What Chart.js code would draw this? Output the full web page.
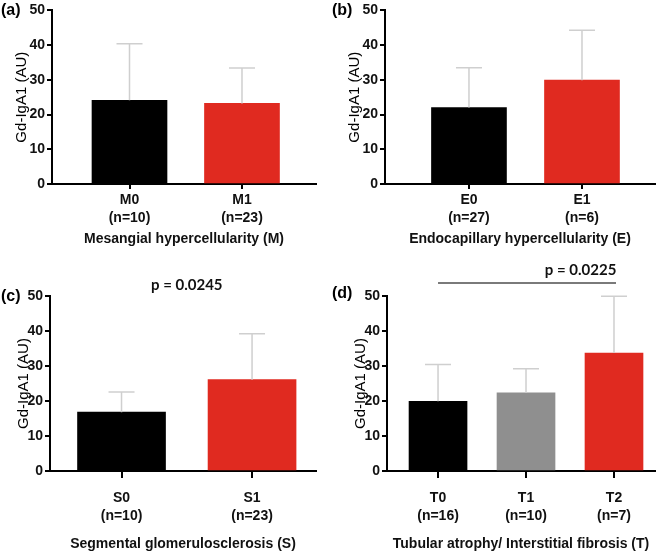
<!DOCTYPE html>
<html>
<head>
<meta charset="utf-8">
<script src="https://cdn.jsdelivr.net/npm/chart.js@4"></script>
<style>
  html, body { margin: 0; padding: 0; background: #fff; }
  body { width: 661px; height: 556px; position: relative; overflow: hidden; }
  canvas { position: absolute; }
</style>
</head>
<body>
<canvas id="pa" style="left:0;top:0"></canvas>
<canvas id="pb" style="left:330px;top:0"></canvas>
<canvas id="pc" style="left:0;top:258px"></canvas>
<canvas id="pd" style="left:330px;top:258px"></canvas>
<script>
// ---------- data ----------
const yTicks = [0, 10, 20, 30, 40, 50];
const yTitle = 'Gd-IgA1 (AU)';

const catsA = ['M0', 'M1'];
const nA = ['(n=10)', '(n=23)'];
const meanA = [24.1, 23.2];
const sdA = [16.3, 10.2];
const titleA = 'Mesangial hypercellularity (M)';

const catsB = ['E0', 'E1'];
const nB = ['(n=27)', '(n=6)'];
const meanB = [22.0, 29.9];
const sdB = [11.5, 14.4];
const titleB = 'Endocapillary hypercellularity (E)';

const catsC = ['S0', 'S1'];
const nC = ['(n=10)', '(n=23)'];
const meanC = [16.8, 26.1];
const sdC = [5.8, 13.1];
const titleC = 'Segmental glomerulosclerosis (S)';
const pC = 'p = 0.0245';

const catsD = ['T0', 'T1', 'T2'];
const nD = ['(n=16)', '(n=10)', '(n=7)'];
const meanD = [19.9, 22.3, 33.7];
const sdD = [10.5, 6.9, 16.2];
const titleD = 'Tubular atrophy/ Interstitial fibrosis (T)';
const pD = 'p = 0.0225';
const pDfrom = 'T0', pDto = 'T2';

// ---------- style ----------
const BLACK = '#000000', RED = '#e02a20', GRAY = '#8f8f8f';
const FONT = '"Liberation Sans", Arial, Helvetica, sans-serif';
Chart.defaults.font.family = FONT;
Chart.defaults.color = '#111';

const errPlugin = {
  id: 'err',
  afterDatasetsDraw(chart) {
    const ctx = chart.ctx, ys = chart.scales.y;
    const ds = chart.data.datasets[0];
    const meta = chart.getDatasetMeta(0);
    ctx.save();
    ctx.strokeStyle = '#cfcfcf';
    ctx.lineWidth = 1.5;
    meta.data.forEach((bar, i) => {
      const top = ys.getPixelForValue(ds.data[i].y + ds.errors[i]);
      const cap = 13;
      ctx.beginPath();
      ctx.moveTo(bar.x, bar.y);
      ctx.lineTo(bar.x, top);
      ctx.moveTo(bar.x - cap, top);
      ctx.lineTo(bar.x + cap, top);
      ctx.stroke();
    });
    ctx.restore();
  }
};

const annotPlugin = {
  id: 'annot',
  afterDraw(chart, args, o) {
    const ctx = chart.ctx, xs = chart.scales.x;
    ctx.save();
    ctx.fillStyle = '#000';
    ctx.textBaseline = 'middle';
    ctx.textAlign = 'left';
    ctx.font = 'bold 16px ' + FONT;
    ctx.fillText(o.label, o.labelX, o.labelY);
    if (o.line) {
      ctx.strokeStyle = '#7a7a7a';
      ctx.lineWidth = 2;
      ctx.beginPath();
      ctx.moveTo(xs.getPixelForValue(o.line.from), o.line.y);
      ctx.lineTo(xs.getPixelForValue(o.line.to) + 2, o.line.y);
      ctx.stroke();
    }
    if (o.pText) {
      ctx.font = 'bold 15px Lato, "Open Sans", sans-serif';
      ctx.textAlign = 'center';
      ctx.fillStyle = '#111';
      ctx.fillText(o.pText, xs.getPixelForValue(o.pX), o.pY);
    }
    ctx.restore();
  }
};

function makePanel(id, cfg) {
  const cv = document.getElementById(id);
  cv.width = cfg.w; cv.height = cfg.h;
  cv.style.width = cfg.w + 'px'; cv.style.height = cfg.h + 'px';
  new Chart(cv, {
    type: 'bar',
    data: {
      datasets: [{
        data: cfg.means.map((v, i) => ({ x: i + 1, y: v })),
        errors: cfg.sds,
        backgroundColor: cfg.colors,
        borderWidth: 0,
        barThickness: cfg.barW
      }]
    },
    options: {
      responsive: false,
      animation: false,
      events: [],
      layout: { padding: cfg.pad },
      plugins: {
        legend: { display: false },
        tooltip: { enabled: false },
        annot: cfg.annot
      },
      scales: {
        x: {
          type: 'linear',
          min: cfg.xmin, max: cfg.xmax,
          offset: false,
          afterBuildTicks: s => { s.ticks = cfg.cats.map((c, i) => ({ value: i + 1 })); },
          afterFit: s => { s.height = cfg.xH; },
          ticks: {
            autoSkip: false, maxRotation: 0, minRotation: 0,
            padding: cfg.xTickPad,
            color: '#111',
            font: { size: 14, weight: 'bold', lineHeight: '18px' },
            callback: (v, i) => [cfg.cats[i], cfg.ns[i]]
          },
          grid: {
            display: true, drawOnChartArea: false, drawTicks: true,
            tickLength: cfg.xTickLen, color: '#000', lineWidth: 2, offset: false
          },
          border: { display: true, color: '#000', width: 2 },
          title: {
            display: true, text: cfg.xTitle, color: '#111',
            font: { size: 14, weight: 'bold' },
            padding: { top: 0, bottom: cfg.xTitlePad }
          }
        },
        y: {
          min: 0, max: 50,
          afterBuildTicks: s => { s.ticks = yTicks.map(v => ({ value: v })); },
          afterFit: s => { s.width = cfg.yW; },
          ticks: {
            padding: 2, color: '#111',
            font: { size: 14, weight: 'bold' }
          },
          grid: {
            display: true, drawOnChartArea: false, drawTicks: true,
            tickLength: 5, color: '#000', lineWidth: 2
          },
          border: { display: true, color: '#000', width: 2 },
          title: {
            display: true, text: yTitle, color: '#000',
            font: { size: 15, weight: 'normal' },
            padding: { top: cfg.yTitlePad, bottom: 0 }
          }
        }
      }
    },
    plugins: [errPlugin, annotPlugin]
  });
}

makePanel('pa', {
  w: 330, h: 278, pad: { left: 0, top: 10, right: 14, bottom: 0 },
  yW: 52, xH: 94, xmin: 0.311, xmax: 2.658, barW: 75,
  xTickLen: 5, xTickPad: 2, xTitlePad: 30, yTitlePad: 13,
  cats: catsA, ns: nA, means: meanA, sds: sdA, colors: [BLACK, RED], xTitle: titleA,
  annot: { label: '(a)', labelX: 1, labelY: 11 }
});

makePanel('pb', {
  w: 331, h: 278, pad: { left: 0, top: 10, right: 6, bottom: 0 },
  yW: 55, xH: 94, xmin: 0.257, xmax: 2.646, barW: 75,
  xTickLen: 5, xTickPad: 2, xTitlePad: 30, yTitlePad: 16,
  cats: catsB, ns: nB, means: meanB, sds: sdB, colors: [BLACK, RED], xTitle: titleB,
  annot: { label: '(b)', labelX: 2, labelY: 11 }
});

makePanel('pc', {
  w: 330, h: 298, pad: { left: 0, top: 38, right: 14, bottom: 0 },
  yW: 50, xH: 85, xmin: 0.452, xmax: 2.49, barW: 88,
  xTickLen: 7, xTickPad: 11, xTitlePad: 3, yTitlePad: 15,
  cats: catsC, ns: nC, means: meanC, sds: sdC, colors: [BLACK, RED], xTitle: titleC,
  annot: { label: '(c)', labelX: 1, labelY: 39, pText: pC, pX: 1.5, pY: 27 }
});

makePanel('pd', {
  w: 331, h: 298, pad: { left: 0, top: 38, right: 6, bottom: 0 },
  yW: 57, xH: 85, xmin: 0.42, xmax: 3.466, barW: 58,
  xTickLen: 7, xTickPad: 11, xTitlePad: 3, yTitlePad: 22,
  cats: catsD, ns: nD, means: meanD, sds: sdD, colors: [BLACK, GRAY, RED], xTitle: titleD,
  annot: {
    label: '(d)', labelX: 2, labelY: 36,
    line: { from: catsD.indexOf(pDfrom) + 1, to: catsD.indexOf(pDto) + 1, y: 25 },
    pText: pD, pX: 2.62, pY: 12
  }
});
</script>
</body>
</html>
